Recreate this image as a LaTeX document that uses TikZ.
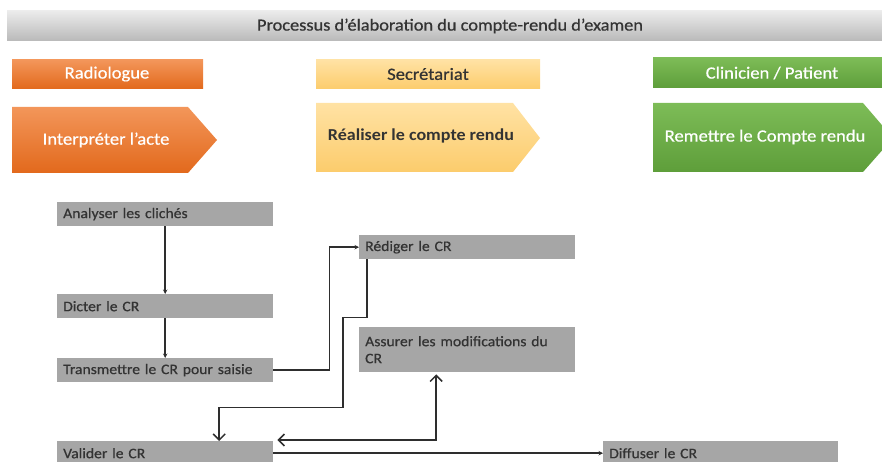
\documentclass[tikz,border=0pt]{standalone}
\usepackage{fontspec}
\setmainfont[FakeStretch=1.08, FakeBold=0.6, BoldFont=Carlito Bold, BoldFeatures={FakeBold=0}]{Carlito}
\usetikzlibrary{arrows.meta,calc}
\definecolor{boxgray}{HTML}{A6A6A6}
\definecolor{txtdark}{HTML}{333333}
\definecolor{linec}{HTML}{2E2E2E}
\definecolor{orA}{HTML}{F3965A}
\definecolor{orB}{HTML}{E2691C}
\definecolor{yeA}{HTML}{FFE2A4}
\definecolor{yeB}{HTML}{FCCC6C}
\definecolor{grA}{HTML}{7DBC57}
\definecolor{grB}{HTML}{5E9E3A}
\definecolor{tiA}{HTML}{EBEBEB}
\definecolor{tiB}{HTML}{B9B9B9}
\tikzset{
  graybox/.style={fill=boxgray, anchor=north west, inner xsep=6pt, inner ysep=0pt,
     text=txtdark, font=\fontsize{14.5}{17}\selectfont, align=left},
  conn/.style={draw=linec, line width=1.7pt},
  smallarr/.style={-{Stealth[length=4.5pt,width=4.5pt]}},
  openarr/.style={{Straight Barb[length=6pt,width=12pt,line width=1.5pt]}-{Straight Barb[length=6pt,width=12pt,line width=1.5pt]}},
  openend/.style={-{Straight Barb[length=6pt,width=12pt,line width=1.5pt]}},
  lbl/.style={font=\fontsize{17.2}{20}\selectfont},
}
\begin{document}
\begin{tikzpicture}[x=1pt,y=-1pt]
\useasboundingbox (0,0) rectangle (882,462);
% title bar
\shade[top color=tiA, bottom color=tiB] (7,11) rectangle (882,41);
\node[lbl, text=txtdark, font=\fontsize{17}{20}\selectfont] (title) at (450,26) {Processus d’élaboration du compte-rendu d’examen};
% role headers
\shade[top color=orA, bottom color=orB] (12,60) rectangle (203,89);
\node[lbl, text=white] (rad) at (107,74) {Radiologue};
\shade[top color=yeA, bottom color=yeB] (316,60) rectangle (540,89);
\node[lbl, text=txtdark] (sec) at (428,74) {Secrétariat};
\shade[top color=grA, bottom color=grB] (653,58) rectangle (890,88);
\node[lbl, text=white] (cli) at (772,73) {Clinicien / Patient};
% chevrons
\shade[top color=orA, bottom color=orB] (12,107) -- (188,107) -- (217,140) -- (188,173) -- (12,173) -- cycle;
\node[lbl, text=white] (interp) at (106,140) {Interpréter l’acte};
\shade[top color=yeA, bottom color=yeB] (316,103) -- (513,103) -- (540,138) -- (513,172) -- (316,172) -- cycle;
\node[lbl, text=txtdark, font=\fontsize{16.7}{19}\selectfont\bfseries] (real) at (421,136) {Réaliser le compte rendu};
\shade[top color=grA, bottom color=grB] (653,103) -- (863,103) -- (893,138) -- (863,172) -- (653,172) -- cycle;
\node[lbl, text=white] (rem) at (765,137) {Remettre le Compte rendu};
% process boxes
\node[graybox, text width=204pt, minimum height=24pt] (ana) at (57,202) {Analyser les clichés};
\node[graybox, text width=204pt, minimum height=24pt] (dic) at (57,294) {Dicter le CR};
\node[graybox, text width=204pt, minimum height=24pt] (tra) at (57,358) {Transmettre le CR pour saisie};
\node[graybox, text width=204pt, minimum height=24pt] (val) at (57,441) {Valider le CR};
\node[graybox, text width=204pt, minimum height=24pt] (red) at (359,235) {Rédiger le CR};
\node[graybox, text width=204pt, minimum height=45pt] (ass) at (359,327) {Assurer les modifications du\\CR};
\node[graybox, text width=223pt, minimum height=24pt] (dif) at (603,441) {Diffuser le CR};
% connectors
\draw[conn, smallarr] (ana.south) -- (dic.north);
\draw[conn, smallarr] (dic.south) -- (tra.north);
\draw[conn, smallarr] (tra.east) -- ++(56,0) |- (red.west);
\draw[conn, openend] ([xshift=8pt]red.south west) -- ++(0,58) -- ++(-24,0) -- ++(0,90) -| ([xshift=54pt]val.north);
\draw[conn, openarr] ([xshift=4pt,yshift=1pt]val.north east) -| ([xshift=-31pt,yshift=-2pt]ass.south);
\draw[conn, smallarr] (val.east) -- (dif.west);
\end{tikzpicture}
\end{document}
